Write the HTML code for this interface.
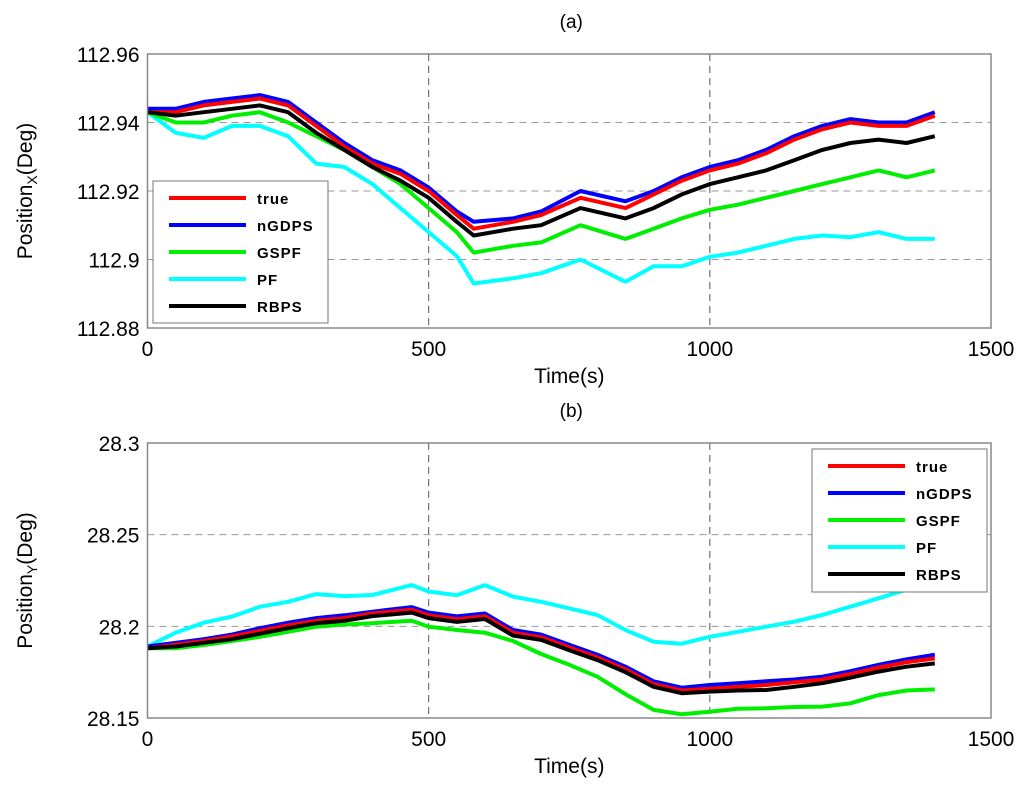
<!DOCTYPE html>
<html><head><meta charset="utf-8"><style>
body{margin:0;background:#fff}
svg text{font-family:"Liberation Sans",Arial,sans-serif}
</style></head><body>
<svg id="chart" width="1024" height="793" xmlns="http://www.w3.org/2000/svg"></svg>
<script>
const seriesNames=["PF","GSPF","nGDPS","true","RBPS"];
const legendOrder=["true","nGDPS","GSPF","PF","RBPS"];
const colors={"true":"#ff0000","nGDPS":"#0000ff","GSPF":"#00ee00","PF":"#00ffff","RBPS":"#000000"};
const xTicks=[0,500,1000,1500];
const timesA=[0,50,100,150,200,250,300,350,400,450,500,550,580,650,700,770,850,900,950,1000,1050,1100,1150,1200,1250,1300,1350,1400];
const aTrue=[112.943,112.943,112.945,112.946,112.947,112.945,112.939,112.933,112.928,112.925,112.920,112.913,112.909,112.911,112.913,112.918,112.915,112.919,112.923,112.926,112.928,112.931,112.935,112.938,112.940,112.939,112.939,112.942];
const aNGDPS=[112.944,112.944,112.946,112.947,112.948,112.946,112.940,112.934,112.929,112.926,112.921,112.914,112.911,112.912,112.914,112.920,112.917,112.920,112.924,112.927,112.929,112.932,112.936,112.939,112.941,112.940,112.940,112.943];
const aRBPS=[112.943,112.942,112.943,112.944,112.945,112.943,112.937,112.932,112.927,112.923,112.918,112.911,112.907,112.909,112.910,112.915,112.912,112.915,112.919,112.922,112.924,112.926,112.929,112.932,112.934,112.935,112.934,112.936];
const aGSPF=[112.943,112.940,112.940,112.942,112.943,112.940,112.936,112.932,112.927,112.922,112.915,112.908,112.902,112.904,112.905,112.910,112.906,112.909,112.912,112.9145,112.916,112.918,112.920,112.922,112.924,112.926,112.924,112.926];
const aPF=[112.943,112.937,112.9355,112.939,112.939,112.936,112.928,112.927,112.922,112.915,112.908,112.901,112.893,112.8945,112.896,112.900,112.8935,112.898,112.898,112.9008,112.902,112.904,112.906,112.907,112.9065,112.908,112.906,112.906];
const yTicksA=[112.88,112.9,112.92,112.94,112.96];
const yTickLabelsA=["112.88","112.9","112.92","112.94","112.96"];
const timesB=[0,50,100,150,200,250,300,350,400,470,500,550,600,650,700,750,800,850,900,950,1000,1050,1100,1150,1200,1250,1300,1350,1400];
const bRBPS=[28.188,28.189,28.191,28.193,28.196,28.199,28.2017,28.203,28.2056,28.2075,28.2045,28.2024,28.204,28.195,28.1926,28.187,28.1816,28.175,28.167,28.1635,28.1644,28.165,28.1653,28.167,28.169,28.172,28.1753,28.178,28.1798];
const bTrue=[28.188,28.190,28.192,28.1945,28.1975,28.2005,28.203,28.2045,28.207,28.209,28.206,28.2039,28.2055,28.1965,28.194,28.1885,28.183,28.1765,28.1685,28.165,28.166,28.167,28.168,28.1695,28.171,28.174,28.1775,28.1805,28.1825];
const bNGDPS=[28.189,28.191,28.193,28.1955,28.199,28.202,28.2045,28.206,28.208,28.2105,28.2075,28.2054,28.207,28.198,28.1955,28.19,28.1845,28.178,28.170,28.1665,28.168,28.169,28.170,28.171,28.1725,28.1755,28.179,28.182,28.1845];
const bGSPF=[28.188,28.188,28.1898,28.192,28.1943,28.197,28.1998,28.201,28.2017,28.2031,28.1998,28.198,28.1965,28.192,28.1849,28.179,28.1725,28.163,28.1544,28.152,28.1534,28.155,28.1553,28.156,28.1562,28.158,28.1625,28.165,28.1656];
const bPF=[28.189,28.1965,28.202,28.2053,28.2107,28.2134,28.2176,28.2165,28.2171,28.2225,28.219,28.217,28.2225,28.2162,28.2134,28.2098,28.2062,28.198,28.1916,28.1905,28.1943,28.197,28.1998,28.2025,28.2062,28.2107,28.2153,28.22,28.222];
const yTicksB=[28.15,28.2,28.25,28.3];
const yTickLabelsB=["28.15","28.2","28.25","28.3"];

const NS="http://www.w3.org/2000/svg";
const svg=document.getElementById('chart');
function mk(tag,attrs,parent){const e=document.createElementNS(NS,tag);for(const k in attrs)e.setAttribute(k,attrs[k]);(parent||svg).appendChild(e);return e;}

function drawPanel(id,box,yMin,yMax,yTicks,yLabels,times,data,title,ylabelMain,ylabelSub,legendBox){
  const g=mk('g',{});
  
  
  const xs=v=>box.l+(v-0)/1500*(box.r-box.l);
  const ys=v=>box.b-(v-yMin)/(yMax-yMin)*(box.b-box.t);
  // grid
  xTicks.forEach(t=>{if(t>0&&t<1500){const l=mk('line',{x1:xs(t),x2:xs(t),y1:box.t,y2:box.b,stroke:'#555','stroke-dasharray':'7,5','stroke-width':1},g);
    
    }});
  yTicks.forEach(t=>{if(t>yMin&&t<yMax){const l=mk('line',{x1:box.l,x2:box.r,y1:ys(t),y2:ys(t),stroke:'#999','stroke-dasharray':'7,5','stroke-width':1},g);
    
    }});
  // series
  seriesNames.forEach(n=>{
    const vals=data[n];
    const d=vals.map((v,i)=>(i?'L':'M')+xs(times[i]).toFixed(1)+','+ys(v).toFixed(1)).join(' ');
    const p=mk('path',{d:d,fill:'none',stroke:colors[n],'stroke-width':4,'stroke-linejoin':'round'},g);
    
    
  });
  // axes box
  const r=mk('rect',{x:box.l,y:box.t,width:box.r-box.l,height:box.b-box.t,fill:'none',stroke:'#888','stroke-width':1.5},g);
  
  
  // ticks labels
  xTicks.forEach(t=>{const tx=mk('text',{x:xs(t),y:box.b+28,'font-size':21,'text-anchor':'middle',fill:'#000'},g);tx.textContent=t;
    
    });
  yTicks.forEach((t,i)=>{const tx=mk('text',{x:box.l-8,y:ys(t)+8,'font-size':21,'text-anchor':'end',fill:'#000'},g);tx.textContent=yLabels[i];
    
    });
  const xt=mk('text',{x:(box.l+box.r)/2,y:box.b+55,'font-size':21,'text-anchor':'middle'},g);xt.textContent='Time(s)';
  
  
  const tt=mk('text',{x:(box.l+box.r)/2+2,y:box.t-26,'font-size':19,'text-anchor':'middle'},g);tt.textContent=title;
  
  
  const yt=mk('text',{transform:`translate(32,${(box.t+box.b)/2}) rotate(-90)`,'font-size':21,'text-anchor':'middle'},g);
  
  
  const s1=mk('tspan',{},yt);s1.textContent=ylabelMain;
  const s2=mk('tspan',{'font-size':14,dy:5},yt);s2.textContent=ylabelSub;
  const s3=mk('tspan',{dy:-5},yt);s3.textContent='(Deg)';
  // legend
  const lg=mk('g',{},g);
  
  
  mk('rect',{x:legendBox.x,y:legendBox.y,width:legendBox.w,height:legendBox.h,fill:'#fff',stroke:'#777','stroke-width':1},lg);
  legendOrder.forEach((n,i)=>{
    const yy=legendBox.y+17+i*27;
    const e=mk('g',{},lg);
    
    
    mk('line',{x1:legendBox.x+16,x2:legendBox.x+93,y1:yy,y2:yy,stroke:colors[n],'stroke-width':4},e);
    const t=mk('text',{x:legendBox.x+104,y:yy+6,'font-size':15,'font-weight':'bold','letter-spacing':1},e);t.textContent=n;
  });
}
drawPanel('a',{l:147.5,r:991,t:54,b:328},112.88,112.96,yTicksA,yTickLabelsA,timesA,
  {"true":aTrue,"nGDPS":aNGDPS,"GSPF":aGSPF,"PF":aPF,"RBPS":aRBPS},'(a)','Position','X',{x:153,y:181,w:175,h:142});
drawPanel('b',{l:147.5,r:991,t:443,b:718},28.15,28.3,yTicksB,yTickLabelsB,timesB,
  {"true":bTrue,"nGDPS":bNGDPS,"GSPF":bGSPF,"PF":bPF,"RBPS":bRBPS},'(b)','Position','Y',{x:812,y:449,w:175,h:143});
</script>
</body></html>
